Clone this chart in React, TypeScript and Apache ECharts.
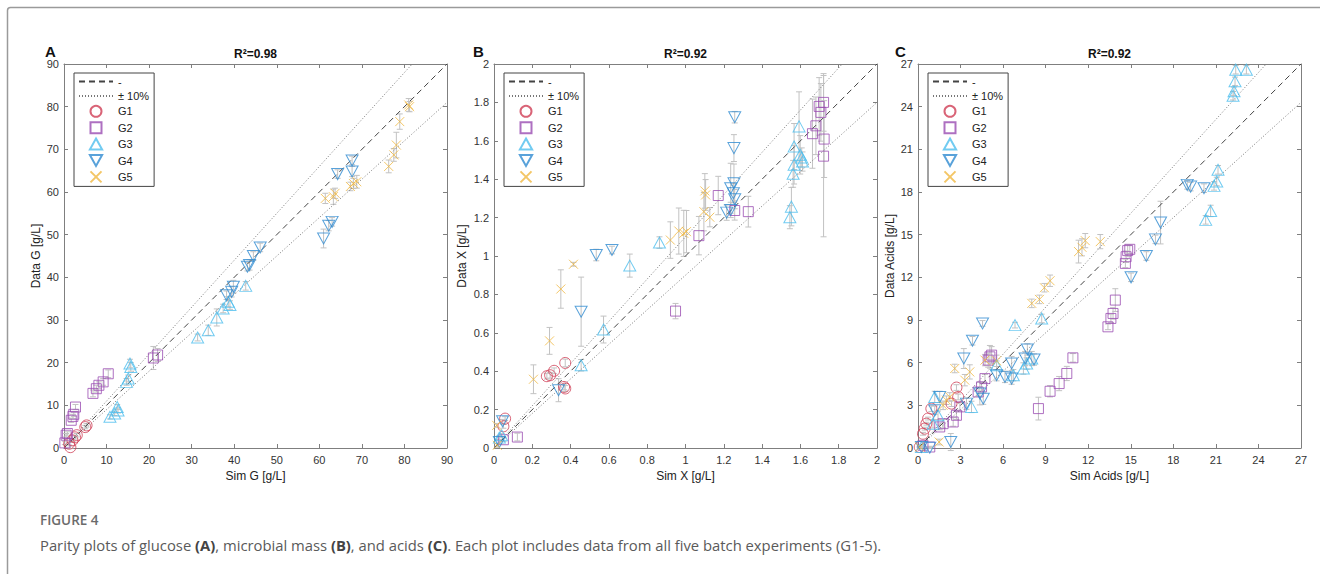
import React, { useEffect, useRef } from 'react';
import * as echarts from 'echarts';

// ---------- data ----------
const SERIES_NAMES = ['G1', 'G2', 'G3', 'G4', 'G5'];
const SERIES_COLORS = ['#cf3d55', '#9a4cb2', '#4dbeee', '#2f8bd1', '#f0b840'];

const PANEL_LETTERS = ['A', 'B', 'C'];
const R2_TEXT = ['R²=0.98', 'R²=0.92', 'R²=0.92'];
const X_NAMES = ['Sim G [g/L]', 'Sim X [g/L]', 'Sim Acids [g/L]'];
const Y_NAMES = ['Data G [g/L]', 'Data X [g/L]', 'Data Acids [g/L]'];
const AXIS_MAX = [90, 2, 27];
const AXIS_STEP = [10, 0.2, 3];

// [sim, data, error]
const A_G1 = [[1.5, 0.2, 0.3], [1.2, 1.0, 0.3], [2.0, 1.8, 0.3], [2.6, 2.5, 0.4], [3.0, 3.0, 0.4], [5.0, 4.9, 0.4], [5.3, 5.3, 0.4]];
const A_G2 = [[0.2, 1.2, 0.4], [0.5, 3.0, 0.4], [0.8, 3.4, 0.4], [1.7, 6.5, 0.5], [2.1, 7.4, 0.5], [2.3, 7.9, 0.5], [2.7, 9.6, 0.6], [6.8, 12.8, 0.8], [7.6, 13.9, 0.8], [8.2, 14.7, 0.8], [9.2, 15.5, 0.8], [10.4, 17.4, 0.9], [21.0, 21.1, 2.7], [22.0, 21.8, 1.5]];
const A_G3 = [[10.8, 7.3, 0.5], [11.9, 8.1, 0.5], [12.5, 9.6, 0.6], [12.7, 8.8, 0.6], [14.7, 15.5, 0.8], [15.1, 16.3, 0.8], [15.5, 19.8, 1.0], [15.7, 19.0, 1.0], [31.4, 25.9, 0.8], [33.9, 27.6, 1.2], [35.9, 30.6, 2.0], [37.4, 32.7, 1.0], [38.6, 34.3, 1.2], [39.0, 33.5, 1.0], [42.7, 38.0, 1.0]];
const A_G4 = [[38.2, 35.8, 1.0], [39.4, 36.6, 1.2], [39.8, 37.8, 1.5], [43.1, 42.5, 1.0], [43.6, 42.9, 1.2], [44.5, 45.0, 1.0], [46.1, 47.0, 1.0], [61.0, 49.1, 2.2], [62.2, 52.1, 1.2], [63.0, 53.0, 1.0], [64.3, 64.2, 1.0], [67.7, 67.4, 1.0], [67.7, 64.8, 1.2]];
const A_G5 = [[61.4, 58.5, 1.2], [63.3, 58.9, 1.8], [63.7, 59.7, 1.2], [67.3, 61.3, 1.0], [68.0, 62.0, 1.2], [68.8, 62.4, 1.5], [76.3, 66.0, 1.5], [77.5, 68.7, 1.5], [78.1, 71.0, 3.0], [78.9, 76.5, 1.8], [81.0, 80.4, 1.5], [81.2, 80.0, 1.2]];

const B_G1 = [[0.058, 0.153, 0.01], [0.049, 0.113, 0.01], [0.276, 0.374, 0.015], [0.293, 0.379, 0.015], [0.314, 0.402, 0.015], [0.372, 0.443, 0.02], [0.366, 0.318, 0.015], [0.372, 0.31, 0.015]];
const B_G2 = [[0.122, 0.057, 0.02], [0.049, 0.043, 0.01], [0.948, 0.713, 0.04], [1.07, 1.106, 0.1], [1.171, 1.315, 0.1], [1.257, 1.237, 0.05], [1.328, 1.231, 0.08], [1.663, 1.637, 0.18], [1.681, 1.678, 0.15], [1.698, 1.779, 0.15], [1.707, 1.748, 0.15], [1.721, 1.8, 0.15], [1.724, 1.609, 0.2], [1.721, 1.52, 0.42]];
const B_G3 = [[0.028, 0.054, 0.01], [0.04, 0.066, 0.01], [0.455, 0.431, 0.03], [0.572, 0.617, 0.07], [0.709, 0.95, 0.06], [0.864, 1.07, 0.03], [1.545, 1.202, 0.06], [1.553, 1.257, 0.1], [1.562, 1.428, 0.07], [1.567, 1.475, 0.1], [1.567, 1.57, 0.12], [1.593, 1.675, 0.18], [1.599, 1.527, 0.1], [1.607, 1.513, 0.05], [1.611, 1.492, 0.05]];
const B_G4 = [[0.028, 0.031, 0.01], [0.045, 0.139, 0.01], [0.337, 0.301, 0.06], [0.455, 0.71, 0.18], [0.534, 1.005, 0.03], [0.616, 1.031, 0.02], [1.215, 1.226, 0.04], [1.236, 1.24, 0.04], [1.236, 1.353, 0.13], [1.25, 1.327, 0.05], [1.253, 1.379, 0.1], [1.257, 1.296, 0.05], [1.253, 1.562, 0.07], [1.257, 1.723, 0.03]];
const B_G5 = [[0.014, 0.118, 0.01], [0.017, 0.014, 0.01], [0.206, 0.358, 0.075], [0.29, 0.558, 0.07], [0.349, 0.828, 0.1], [0.415, 0.957, 0.01], [0.921, 1.083, 0.095], [0.965, 1.13, 0.12], [0.991, 1.118, 0.12], [1.005, 1.127, 0.11], [1.096, 1.231, 0.1], [1.101, 1.339, 0.09], [1.105, 1.318, 0.08], [1.127, 1.202, 0.05]];

const C_G1 = [[2.71, 4.25, 0.2], [0.94, 2.77, 0.2], [0.35, 1.0, 0.1], [0.47, 1.36, 0.1], [0.59, 1.71, 0.1], [0.71, 2.07, 0.1], [0.12, 0.07, 0.05], [2.83, 3.59, 0.2], [2.36, 3.12, 0.2]];
const C_G2 = [[8.49, 2.77, 0.8], [9.31, 3.99, 0.4], [9.95, 4.53, 0.5], [10.49, 5.24, 0.5], [10.92, 6.34, 0.3], [13.39, 8.52, 0.2], [13.6, 9.11, 0.3], [13.75, 9.46, 0.4], [13.91, 10.4, 0.8], [14.62, 12.98, 0.3], [14.67, 13.45, 0.4], [14.78, 13.88, 0.4], [14.93, 13.97, 0.3], [5.07, 6.41, 0.8], [5.19, 6.53, 0.6], [4.95, 6.18, 0.5], [4.72, 4.88, 0.3], [4.48, 4.3, 0.3], [4.24, 3.94, 0.3], [2.95, 2.89, 0.3], [2.71, 2.3, 0.3], [2.48, 1.83, 0.3], [1.77, 1.71, 0.3], [1.53, 1.48, 0.2], [0.83, 0.07, 0.05], [0.35, 0.19, 0.05]];
const C_G3 = [[22.4, 26.6, 0.3], [23.15, 26.6, 0.3], [22.35, 25.78, 0.3], [22.28, 25.08, 0.3], [22.21, 24.77, 0.3], [21.15, 19.56, 0.3], [21.06, 18.74, 0.3], [20.87, 18.43, 0.3], [20.63, 16.67, 0.4], [20.28, 16.04, 0.3], [8.72, 9.11, 0.3], [6.84, 8.64, 0.2], [7.43, 5.59, 0.4], [7.66, 5.94, 0.4], [8.02, 6.29, 0.5], [6.72, 5.12, 0.4], [3.77, 2.89, 0.4], [1.41, 2.3, 0.3], [1.06, 1.71, 0.3], [0.24, 0.07, 0.05], [1.18, 3.59, 0.4], [5.54, 5.82, 0.3]];
const C_G4 = [[18.98, 18.5, 0.3], [19.22, 18.38, 0.3], [20.16, 18.27, 0.3], [17.1, 15.85, 1.5], [16.74, 14.67, 0.3], [16.1, 13.5, 0.3], [15.02, 12.0, 0.3], [7.71, 6.93, 0.4], [8.18, 6.22, 0.4], [7.55, 6.29, 0.5], [6.6, 5.94, 0.5], [6.13, 5.0, 0.4], [5.54, 5.12, 0.4], [6.6, 4.88, 0.4], [4.55, 8.76, 0.2], [3.84, 7.54, 0.3], [3.23, 6.29, 0.7], [2.31, 0.42, 0.6], [0.24, 0.07, 0.05], [0.83, 0.02, 0.05], [1.53, 3.59, 0.4], [4.36, 3.83, 0.8], [4.6, 3.47, 0.4], [3.42, 3.12, 0.4], [1.18, 2.65, 0.3]];
const C_G5 = [[8.02, 10.17, 0.3], [8.56, 10.45, 0.3], [8.91, 11.27, 0.3], [9.31, 11.76, 0.4], [11.32, 13.81, 0.8], [11.56, 14.11, 0.6], [11.79, 14.58, 0.5], [12.85, 14.51, 0.5], [2.59, 5.59, 0.3], [3.3, 4.77, 0.4], [3.65, 5.35, 0.5], [4.72, 6.18, 0.4], [5.54, 6.13, 0.4], [1.49, 0.42, 0.2], [0.12, 0.07, 0.05], [1.77, 3.0, 0.3], [2.24, 3.59, 0.3], [2.0, 3.36, 0.3]];

const PANEL_DATA = [
  [A_G1, A_G2, A_G3, A_G4, A_G5],
  [B_G1, B_G2, B_G3, B_G4, B_G5],
  [C_G1, C_G2, C_G3, C_G4, C_G5],
];

// ---------- layout / style ----------
const GRID_LEFT = [64, 494, 918];
const GRID_TOP = 64;
const GRID_W = 383;
const GRID_H = 384;
const FONT = 'Liberation Sans, Arial, sans-serif';
const AXIS_COLOR = '#7f7f7f';

const SYMBOLS = [
  'circle',
  'path://M0,0L10,0L10,10L0,10Z',
  'path://M5,0L10,9L0,9Z',
  'path://M0,0L10,0L5,9Z',
  'path://M0,0L10,10M0,10L10,0',
];
const SYMBOL_SIZES = [11, 10, [12, 11], [12, 11], 9];

function buildOption() {
  const grid: any[] = [];
  const xAxis: any[] = [];
  const yAxis: any[] = [];
  const series: any[] = [];
  const legend: any[] = [];
  const graphic: any[] = [];

  for (let i = 0; i < 3; i++) {
    const max = AXIS_MAX[i];
    const step = AXIS_STEP[i];
    grid.push({ left: GRID_LEFT[i], top: GRID_TOP, width: GRID_W, height: GRID_H });
    const common = {
      gridIndex: i,
      type: 'value',
      min: 0,
      max,
      interval: step,
      splitLine: { show: false },
      axisLine: { onZero: false, lineStyle: { color: AXIS_COLOR, width: 1 } },
      axisTick: { inside: true, length: 4, lineStyle: { color: AXIS_COLOR } },
    };
    xAxis.push({
      ...common,
      position: 'bottom',
      name: X_NAMES[i],
      nameLocation: 'middle',
      nameGap: 22,
      nameTextStyle: { fontSize: 12, color: '#222', fontFamily: FONT },
      axisLabel: { fontSize: 11, color: '#333', margin: 6, fontFamily: FONT },
    });
    xAxis.push({ ...common, position: 'top', axisLabel: { show: false } });
    yAxis.push({
      ...common,
      position: 'left',
      name: Y_NAMES[i],
      nameLocation: 'middle',
      nameGap: i === 1 ? 26 : 22,
      nameTextStyle: { fontSize: 12, color: '#222', fontFamily: FONT },
      axisLabel: { fontSize: 11, color: '#333', margin: 5, fontFamily: FONT },
    });
    yAxis.push({ ...common, position: 'right', axisLabel: { show: false } });

    const xi = 2 * i;
    const yi = 2 * i;

    // error bars
    const allPts = PANEL_DATA[i].flat();
    series.push({
      type: 'custom',
      name: 'err' + i,
      xAxisIndex: xi,
      yAxisIndex: yi,
      z: 1,
      silent: true,
      data: allPts,
      encode: { x: 0, y: 1 },
      renderItem: (params: any, api: any) => {
        const x = api.value(0);
        const y = api.value(1);
        const e = api.value(2);
        const t = api.coord([x, y + e]);
        const b = api.coord([x, y - e]);
        const w = 3;
        const st = { stroke: '#c2c2c2', lineWidth: 1 };
        return {
          type: 'group',
          children: [
            { type: 'line', shape: { x1: t[0], y1: t[1], x2: b[0], y2: b[1] }, style: st },
            { type: 'line', shape: { x1: t[0] - w, y1: t[1], x2: t[0] + w, y2: t[1] }, style: st },
            { type: 'line', shape: { x1: b[0] - w, y1: b[1], x2: b[0] + w, y2: b[1] }, style: st },
          ],
        };
      },
    });

    const hidden = { color: 'rgba(0,0,0,0)', borderColor: 'rgba(0,0,0,0)', borderWidth: 0, opacity: 0 };
    // parity lines
    series.push({
      type: 'line', name: '-', xAxisIndex: xi, yAxisIndex: yi, z: 2,
      data: [[0, 0], [max, max]], symbol: 'none', showSymbol: false, silent: true,
      itemStyle: hidden,
      lineStyle: { color: '#444', width: 1, type: [6, 4], opacity: 1 },
    });
    series.push({
      type: 'line', name: '± 10%', xAxisIndex: xi, yAxisIndex: yi, z: 2,
      data: [[0, 0], [max / 1.1, max]], symbol: 'none', showSymbol: false, silent: true,
      itemStyle: hidden,
      lineStyle: { color: '#777', width: 1, type: [1, 2], opacity: 1 },
    });
    series.push({
      type: 'line', name: '± 10%', xAxisIndex: xi, yAxisIndex: yi, z: 2,
      data: [[0, 0], [max, max * 0.9]], symbol: 'none', showSymbol: false, silent: true,
      itemStyle: hidden,
      lineStyle: { color: '#777', width: 1, type: [1, 2], opacity: 1 },
    });

    // scatter groups
    for (let g = 0; g < 5; g++) {
      series.push({
        type: 'scatter',
        name: SERIES_NAMES[g],
        xAxisIndex: xi,
        yAxisIndex: yi,
        z: 3,
        clip: false,
        data: PANEL_DATA[i][g].map((p) => [p[0], p[1]]),
        symbol: SYMBOLS[g],
        symbolSize: SYMBOL_SIZES[g],
        itemStyle: { color: 'rgba(0,0,0,0)', borderColor: SERIES_COLORS[g], borderWidth: 1 },
      });
    }

    legend.push({
      data: ['-', '± 10%', ...SERIES_NAMES],
      orient: 'vertical',
      left: GRID_LEFT[i] + 10,
      top: 73,
      itemWidth: 34,
      itemHeight: 11,
      itemGap: 3.4,
      padding: [3, 5, 3, 4],
      borderColor: '#444',
      borderWidth: 1,
      backgroundColor: '#fff',
      selectedMode: false,
      symbolKeepAspect: true,
      textStyle: { fontSize: 11, color: '#222', fontFamily: FONT },
    });

    const cx = GRID_LEFT[i] + GRID_W / 2;
    graphic.push({
      type: 'text', x: cx, y: 54,
      style: { text: R2_TEXT[i], align: 'center', verticalAlign: 'middle', font: `bold 12px ${FONT}`, fill: '#111' },
    });
    graphic.push({
      type: 'text', x: [45, 473, 895][i], y: 51,
      style: { text: PANEL_LETTERS[i], align: 'left', verticalAlign: 'middle', font: `bold 15px ${FONT}`, fill: '#111' },
    });
  }

  // figure frame and caption
  graphic.push({
    type: 'rect', shape: { x: 7.5, y: 7.5, width: 1400, height: 700, r: 3 },
    style: { fill: 'none', stroke: '#9a9a9a', lineWidth: 1.5 }, z: -1,
  });
  graphic.push({
    type: 'text', x: 40, y: 520,
    style: { text: 'FIGURE 4', align: 'left', verticalAlign: 'middle', font: '600 13.5px "Open Sans", sans-serif', fill: '#6b6b6b' },
  });
  graphic.push({
    type: 'text', x: 40, y: 545,
    style: {
      text: 'Parity plots of glucose {b|(A)}, microbial mass {b|(B)}, and acids {b|(C)}. Each plot includes data from all five batch experiments (G1-5).',
      align: 'left', verticalAlign: 'middle',
      font: '14.8px "Open Sans", sans-serif', fill: '#5a5a5a',
      rich: { b: { fontWeight: 'bold', fontSize: 14.8, fontFamily: 'Open Sans', fill: '#444' } },
    },
  });

  return {
    animation: false,
    backgroundColor: '#fff',
    grid,
    xAxis,
    yAxis,
    legend,
    series,
    graphic,
  };
}

export default function App() {
  const ref = useRef<HTMLDivElement>(null);
  useEffect(() => {
    if (!ref.current) return;
    const chart = echarts.init(ref.current, undefined, { renderer: 'svg' });
    chart.setOption(buildOption() as any);
    return () => chart.dispose();
  }, []);
  return <div ref={ref} style={{ position: 'absolute', left: 0, top: 0, width: 1320, height: 574 }} />;
}
